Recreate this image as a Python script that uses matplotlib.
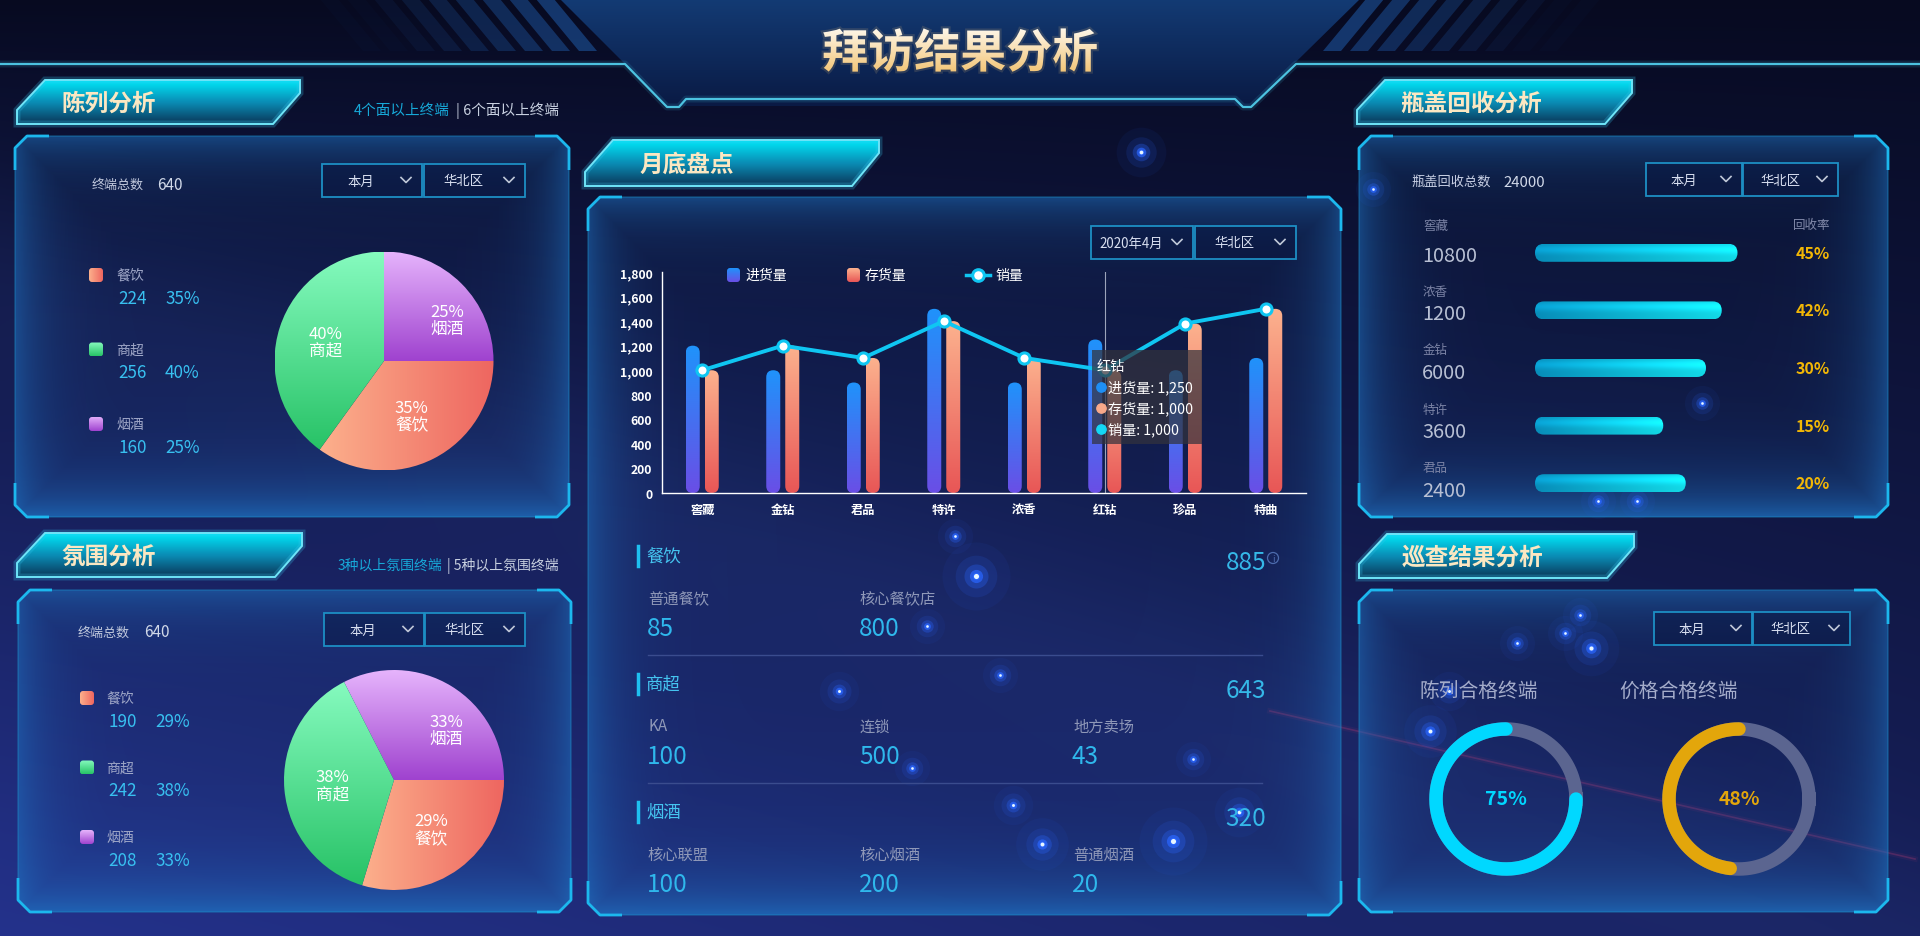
import numpy as np
import matplotlib
matplotlib.use('Agg')
import matplotlib.pyplot as plt
from matplotlib.patches import Polygon, FancyBboxPatch, Rectangle, PathPatch, Circle
from matplotlib.colors import to_rgb
from matplotlib.textpath import TextPath
from matplotlib.font_manager import FontProperties
from matplotlib.transforms import Affine2D
from matplotlib.ticker import FuncFormatter

plt.rcParams['font.family'] = ['Noto Sans CJK SC', 'DejaVu Sans']

W, H = 1920, 937

# ---------------- data ----------------
pie_names = ['餐饮', '商超', '烟酒']
display_counts = [224, 256, 160]
display_pct = [35, 40, 25]
mood_counts = [190, 242, 208]
mood_pct = [29, 38, 33]
terminal_total = 640

cats = ['窖藏', '金钻', '君品', '特许', '浓香', '红钻', '珍品', '特曲']
inbound = [1200, 1000, 900, 1500, 900, 1250, 1000, 1100]
stock = [1000, 1200, 1100, 1400, 1100, 1000, 1380, 1500]
sales = [1000, 1200, 1100, 1400, 1100, 1000, 1380, 1500]
tip_idx = 5

sec_names = ['餐饮', '商超', '烟酒']
sec_totals = [885, 643, 320]
sub_names = [['普通餐饮', '核心餐饮店'], ['KA', '连锁', '地方卖场'], ['核心联盟', '核心烟酒', '普通烟酒']]
sub_vals = [[85, 800], [100, 500, 43], [100, 200, 20]]

cap_total = 24000
cap_names = ['窖藏', '浓香', '金钻', '特许', '君品']
cap_counts = [10800, 1200, 6000, 3600, 2400]
cap_bar = [90, 83, 76, 57, 67]
cap_rate = [45, 42, 30, 15, 20]

insp_names = ['陈列合格终端', '价格合格终端']
insp_rate = [75, 48]

# styles
pie_grad = {'餐饮': ('#fcb08c', '#ee6660', True),
            '商超': ('#86fbbf', '#27c266', False),
            '烟酒': ('#e6b4fc', '#9f42cf', False)}


def frac(x0, y0, x1, y1):
    return [x0 / W, 1 - y1 / H, (x1 - x0) / W, (y1 - y0) / H]


def ramp(c0, c1, n=256, horiz=False):
    t = np.linspace(0, 1, n)[:, None]
    arr = (1 - t) * np.array(to_rgb(c0)) + t * np.array(to_rgb(c1))
    return arr[None, :, :] if horiz else arr[:, None, :]


def fill_grad(ax, patch, img, extent, z):
    ax.add_patch(patch)
    im = ax.imshow(img, extent=extent, aspect='auto', zorder=z, interpolation='bilinear')
    im.set_clip_path(patch)
    return im


fig = plt.figure(figsize=(W / 100, H / 100), dpi=100)
bg = fig.add_axes([0, 0, 1, 1])
bg.axis('off')

# background
yy, xx = np.mgrid[0:H:2, 0:W:2].astype(float)
t = yy / H
s = xx / W
top = np.array([7, 10, 32]) / 255
bot = np.array([36, 50, 140]) / 255
f = (t ** 0.9) * (1 - 0.45 * s)
img = top + (bot - top) * f[..., None]
band = np.exp(-((yy - (0.30 * H + 0.35 * xx)) / 110) ** 2) * 0.035
img = img + band[..., None] * np.array([0.4, 0.6, 1.0])
bg.imshow(np.clip(img, 0, 1), extent=[0, W, H, 0], aspect='auto', zorder=0)

# title band
band_pts = [(560, 0), (1360, 0), (1251, 107), (667, 107)]
fill_grad(bg, Polygon(band_pts, closed=True, fc='none', ec='none'),
          ramp('#133b74', '#0a1a44'), [560, 1360, 107, 0], 0.5)

# stripes
for i in range(9):
    a = 536 - 27 * i
    al = max(0.05, 0.8 - 0.11 * i)
    left = [(a, 0), (a + 18, 0), (a + 61, 52), (a + 43, 52)]
    right = [(W - px, py) for px, py in left]
    for pts in (left, right):
        bg.add_patch(Polygon(pts, closed=True, fc='#18427f', ec='none', alpha=al, zorder=0.6))

# header line
hx = [0, 625, 667, 679, 686, 1235, 1243, 1251, 1296, W]
hy = [65, 65, 108, 108, 100, 100, 108, 108, 65, 65]
bg.plot(hx, hy, color='#3fb8d8', lw=5, alpha=0.15, zorder=1)
bg.plot(hx, hy, color='#4cc2e0', lw=1.6, zorder=1)

# red streak
bg.plot([1270, 1915], [712, 860], color='#c8346e', lw=4, alpha=0.08, zorder=0.7)
bg.plot([1270, 1915], [712, 860], color='#d04078', lw=1.2, alpha=0.25, zorder=0.7)

# glowing stars (decoration)
stars = [(1141, 153, 0.8), (976, 577, 1.5), (1173, 842, 1.5), (1042, 845, 0.9), (1013, 806, 0.5),
         (1239, 813, 0.8), (1430, 732, 0.9), (1449, 692, 0.5), (1591, 649, 1.0), (1580, 616, 0.4),
         (1565, 634, 0.4), (1517, 644, 0.4), (1637, 502, 0.4), (1702, 404, 0.4), (1598, 502, 0.4),
         (839, 692, 0.5), (927, 627, 0.4), (912, 769, 0.4), (1373, 190, 0.4), (1193, 760, 0.4),
         (955, 537, 0.4), (1000, 676, 0.4)]
for sx, sy, sz in stars:
    for mult, al in [(1600, 0.06), (600, 0.13), (200, 0.3), (60, 0.7), (18, 1.0)]:
        bg.scatter([sx], [sy], s=mult * sz, color='#2a66ff', alpha=al, lw=0, zorder=1.5)
    bg.scatter([sx], [sy], s=9 * sz, color='#e8f6ff', lw=0, zorder=1.6)


def panel(x0, y0, x1, y1, c=12):
    pts = [(x0 + c, y0), (x1 - c, y0), (x1, y0 + c), (x1, y1 - c), (x1 - c, y1),
           (x0 + c, y1), (x0, y1 - c), (x0, y0 + c)]
    poly = Polygon(pts, closed=True, fc='none', ec='none')
    w, h = int(x1 - x0), int(y1 - y0)
    py, px = np.mgrid[0:h, 0:w] + 0.5
    d = np.minimum(np.minimum(px, w - px), np.minimum(py, h - py))
    a = 0.5 * np.exp(-d / 30) + 0.22 * np.exp(-(h - py) / 45) + 0.05
    rgba = np.zeros((h, w, 4))
    rgba[..., :3] = to_rgb('#1f72c2')
    rgba[..., 3] = np.clip(a, 0, 0.85)
    fill_grad(bg, poly, rgba, [x0, x1, y1, y0], 1)
    bg.add_patch(Polygon(pts, closed=True, fc='none', ec='#1a8fc8', lw=1.0, alpha=0.45, zorder=2))
    L = 22
    corners = [[(x0, y0 + c + L), (x0, y0 + c), (x0 + c, y0), (x0 + c + L, y0)],
               [(x1 - c - L, y0), (x1 - c, y0), (x1, y0 + c), (x1, y0 + c + L)],
               [(x1, y1 - c - L), (x1, y1 - c), (x1 - c, y1), (x1 - c - L, y1)],
               [(x0 + c + L, y1), (x0 + c, y1), (x0, y1 - c), (x0, y1 - c - L)]]
    for cp in corners:
        cx_, cy_ = zip(*cp)
        bg.plot(cx_, cy_, color='#1cb8ee', lw=2.0, zorder=2.1, solid_capstyle='butt')


def tab(x0, y0, x1, y1, text, tx=44):
    pts = [(x0 + 28, y0), (x1, y0), (x1, y0 + 13), (x1 - 27, y1), (x0, y1), (x0, y1 - 14)]
    poly = Polygon(pts, closed=True, fc='none', ec='none')
    g = np.vstack([ramp('#00e8f8', '#0a8db5', 60), ramp('#0a8db5', '#0b3658', 60)])
    fill_grad(bg, poly, g, [x0, x1, y1, y0], 3)
    bg.add_patch(Polygon(pts, closed=True, fc='none', ec='#38c8f0', lw=5, alpha=0.25, zorder=3))
    bg.add_patch(Polygon(pts, closed=True, fc='none', ec='#6ee4f8', lw=1.4, zorder=4))
    bg.text(x0 + tx, (y0 + y1) / 2 + 1, text, color='#fbe7c2', fontsize=17, fontweight='bold',
            va='center', ha='left', zorder=5)


def dropdown(x0, y0, x1, y1, text):
    bg.add_patch(Rectangle((x0, y0), x1 - x0, y1 - y0, fc=(0.04, 0.09, 0.26, 0.5),
                           ec='#1d8fc4', lw=1.3, zorder=4))
    cy = (y0 + y1) / 2
    bg.text(x0 + (x1 - x0) * 0.39, cy, text, color='#d8dff0', fontsize=9.6,
            ha='center', va='center', zorder=5)
    cx = x1 - 16
    bg.plot([cx - 5, cx, cx + 5], [cy - 3, cy + 2, cy - 3], color='#c0c8d8', lw=1.2, zorder=5)


def swatch(x, y, name):
    c0, c1, hz = pie_grad[name]
    p = FancyBboxPatch((x - 7, y - 7), 14, 14, boxstyle='round,pad=0,rounding_size=3',
                       fc='none', ec='none')
    fill_grad(bg, p, ramp(c0, c1, horiz=hz), [x - 7, x + 7, y + 7, y - 7], 4)


def draw_pie(cx, cy, r, counts, pcts):
    ax = fig.add_axes(frac(cx - r, cy - r, cx + r, cy + r))
    order = [2, 0, 1]
    vals = [counts[i] for i in order]
    labs = [f'{pcts[i]}%\n{pie_names[i]}' for i in order]
    start = 360 * counts[2] / sum(counts)
    wedges, texts = ax.pie(vals, labels=labs, startangle=start, counterclock=False,
                           labeldistance=0.56,
                           textprops=dict(color='white', fontsize=12, ha='center',
                                          va='center', linespacing=1.0, zorder=5))
    for wdg, i in zip(wedges, order):
        c0, c1, hz = pie_grad[pie_names[i]]
        wdg.set_facecolor('none')
        wdg.set_edgecolor('none')
        e = wdg.get_path().get_extents()
        im = ax.imshow(ramp(c0, c1, horiz=hz), extent=[e.x0, e.x1, e.y0, e.y1],
                       aspect='auto', zorder=1, interpolation='bilinear')
        im.set_clip_path(wdg)
    x, y = texts[0].get_position()
    texts[0].set_position((x + 0.18, y - 0.02))
    ax.set_xlim(-1, 1)
    ax.set_ylim(-1, 1)
    ax.set_aspect('equal')
    ax.axis('off')


# ---------------- title ----------------
fp = FontProperties(family='Noto Sans CJK SC', weight='bold')
tp = TextPath((0, 0), '拜访结果分析', size=46, prop=fp)
ext = tp.get_extents()
tr = Affine2D().translate(-(ext.x0 + ext.width / 2), -(ext.y0 + ext.height / 2)).scale(1, -1).translate(960, 51)
tpath = tr.transform_path(tp)
bg.add_patch(PathPatch(tpath, fc='none', ec='#f6c878', lw=3, alpha=0.15, zorder=4))
fill_grad(bg, PathPatch(tpath, fc='none', ec='none'), ramp('#fffaf0', '#f2c373'),
          [960 - ext.width / 2 - 2, 960 + ext.width / 2 + 2, 51 + ext.height / 2 + 2,
           51 - ext.height / 2 - 2], 5)

# ---------------- left top: 陈列分析 ----------------
tab(17, 81, 300, 125, '陈列分析')
bg.text(354, 111, '4个面以上终端', color='#17a8d8', fontsize=10.5, va='center', zorder=5)
bg.text(456, 111, '| 6个面以上终端', color='#c8d0e0', fontsize=10.5, va='center', zorder=5)
panel(15, 137, 569, 518)
bg.text(92, 185, '终端总数', color='#c0c8dc', fontsize=9.4, va='center', zorder=5)
bg.text(157, 185, str(terminal_total), color='#d0d8e8', fontsize=11, va='center', zorder=5)
dropdown(322, 165, 422, 198, '本月')
dropdown(424, 165, 525, 198, '华北区')
for i, name in enumerate(pie_names):
    ly = 276 + i * 74.5
    swatch(96, ly, name)
    bg.text(116, ly, name, color='#a0a8c8', fontsize=10, va='center', zorder=5)
    bg.text(118, ly + 23, str(display_counts[i]), color='#38c0f0', fontsize=12.3, va='center', zorder=5)
    bg.text(165, ly + 23, f'{display_pct[i]}%', color='#38c0f0', fontsize=12.3, va='center', zorder=5)
draw_pie(384, 362, 109.5, display_counts, display_pct)

# ---------------- left bottom: 氛围分析 ----------------
tab(17, 534, 302, 578, '氛围分析')
bg.text(338, 566, '3种以上氛围终端', color='#17a8d8', fontsize=10, va='center', zorder=5)
bg.text(447, 566, '| 5种以上氛围终端', color='#c8d0e0', fontsize=10, va='center', zorder=5)
panel(18, 591, 571, 913)
bg.text(78, 633, '终端总数', color='#c0c8dc', fontsize=9.4, va='center', zorder=5)
bg.text(144, 633, str(terminal_total), color='#d0d8e8', fontsize=11, va='center', zorder=5)
dropdown(324, 614, 424, 647, '本月')
dropdown(425, 614, 525, 647, '华北区')
for i, name in enumerate(pie_names):
    ly = 699 + i * 69.5
    swatch(87, ly, name)
    bg.text(106, ly, name, color='#a0a8c8', fontsize=10, va='center', zorder=5)
    bg.text(108, ly + 23, str(mood_counts[i]), color='#38c0f0', fontsize=12.3, va='center', zorder=5)
    bg.text(155, ly + 23, f'{mood_pct[i]}%', color='#38c0f0', fontsize=12.3, va='center', zorder=5)
draw_pie(394, 781, 110, mood_counts, mood_pct)

# ---------------- center: 月底盘点 ----------------
tab(585, 141, 879, 187, '月底盘点', tx=54)
panel(588, 198, 1341, 916)
dropdown(1091, 227, 1193, 260, '2020年4月')
dropdown(1195, 227, 1296, 260, '华北区')

AX0, AY0, AX1, AY1 = 662, 273, 1306, 494
ax = fig.add_axes(frac(AX0, AY0, AX1, AY1))
ax.set_facecolor('none')
xs = np.arange(len(cats))
bw, off = 0.174, 0.118
ymax = 1800
asp = (ymax / (AY1 - AY0)) / (len(cats) / (AX1 - AX0))
b1 = ax.bar(xs - off, inbound, bw, color='none', zorder=2)
b2 = ax.bar(xs + off, stock, bw, color='none', zorder=2)
for bars, (ct, cb) in [(b1, ('#1f93fb', '#6a4ee6')), (b2, ('#fcb28e', '#e85656'))]:
    for r in bars:
        x0, w, h = r.get_x(), r.get_width(), r.get_height()
        p = FancyBboxPatch((x0, 0), w, h, boxstyle=f'round,pad=0,rounding_size={w / 2}',
                           mutation_aspect=asp, fc='none', ec='none')
        fill_grad(ax, p, ramp(ct, cb), [x0, x0 + w, 0, h], 2)
ax.axvline(tip_idx, color='#c0c8d8', lw=0.8, alpha=0.8, zorder=3)
ax.plot(xs, sales, color='#0fc6f2', lw=2.8, marker='o', ms=8, mfc='white', mec='#0fc6f2',
        mew=2.2, zorder=4)
ax.set_xlim(-0.5, len(cats) - 0.5)
ax.set_ylim(0, ymax)
ax.set_yticks(np.arange(0, ymax + 1, 200))
ax.yaxis.set_major_formatter(FuncFormatter(lambda v, _: f'{int(v):,}'))
ax.set_xticks(xs)
ax.set_xticklabels(cats)
for sp in ['top', 'right']:
    ax.spines[sp].set_visible(False)
for sp in ['left', 'bottom']:
    ax.spines[sp].set_color('white')
    ax.spines[sp].set_linewidth(1)
ax.tick_params(length=0, colors='white', labelsize=8.8, pad=7)
for lab in ax.get_xticklabels() + ax.get_yticklabels():
    lab.set_fontweight('bold')


def px2d(px, py):
    return ((px - AX0) / (AX1 - AX0) * len(cats) - 0.5, (AY1 - py) / (AY1 - AY0) * ymax)


tx0, ty0 = px2d(1092, 445)
tx1, ty1 = px2d(1202, 351)
ax.add_patch(FancyBboxPatch((tx0, ty0), tx1 - tx0, ty1 - ty0, boxstyle='square,pad=0',
                            fc=(0.2, 0.2, 0.24, 0.72), ec='none', zorder=6, clip_on=False))
ax.text(*px2d(1097, 367), cats[tip_idx], color='white', fontsize=10.2, va='center', zorder=7)
tip_rows = [('进货量', inbound[tip_idx], '#1e8ff5'), ('存货量', stock[tip_idx], '#f9a98a'),
            ('销量', sales[tip_idx], '#14d8f5')]
for k, (nm, v, col) in enumerate(tip_rows):
    yk = 388 + 21 * k
    ax.scatter(*px2d(1101, yk), s=45, color=col, zorder=7, clip_on=False)
    ax.text(*px2d(1108, yk), f'{nm}: {v:,}', color='white', fontsize=10.2, va='center', zorder=7)

# legend
for (lx, name, c0, c1) in [(733, '进货量', '#1f93fb', '#6a4ee6'), (853, '存货量', '#fcb28e', '#e85656')]:
    p = FancyBboxPatch((lx - 6, 269), 13, 14, boxstyle='round,pad=0,rounding_size=3', fc='none', ec='none')
    fill_grad(bg, p, ramp(c0, c1), [lx - 6, lx + 7, 283, 269], 4)
    bg.text(lx + 12, 276, name, color='white', fontsize=10, va='center', zorder=5)
bg.plot([966, 990], [276, 276], color='#0fc6f2', lw=2.5, zorder=4)
bg.scatter([978], [276], s=70, color='white', edgecolor='#0fc6f2', lw=2.2, zorder=5)
bg.text(995, 276, '销量', color='white', fontsize=10, va='center', zorder=5)

# sections
cols_x = [648, 860, 1073]
for i, name in enumerate(sec_names):
    y0 = 557 + i * 128
    bg.plot([638, 638], [y0 - 10, y0 + 10], color='#1ec0f0', lw=2.5, zorder=5)
    bg.text(646, y0, name, color='#45c4f0', fontsize=12.5, va='center', zorder=5)
    bg.text(1266, y0 + 6, str(sec_totals[i]), color='#35b8e8', fontsize=17.5, va='center',
            ha='right', zorder=5)
    for j, (sn, sv) in enumerate(zip(sub_names[i], sub_vals[i])):
        bg.text(cols_x[j], y0 + 42, sn, color='#8f98b8', fontsize=11, va='center', zorder=5)
        bg.text(cols_x[j] - 1, y0 + 72, str(sv), color='#2fb8ec', fontsize=17.5, va='center', zorder=5)
    if i < len(sec_names) - 1:
        bg.plot([648, 1262], [y0 + 99, y0 + 99], color='#3a4c8e', lw=1, zorder=5)
# info icon next to the first total
bg.add_patch(Circle((1273, 559), 5.5, fc='none', ec='#4d6cae', lw=0.9, zorder=5))
bg.text(1273, 559.5, 'i', color='#4d6cae', fontsize=6.5, ha='center', va='center',
        family=['DejaVu Sans'], zorder=5)

# ---------------- right top: 瓶盖回收分析 ----------------
tab(1357, 81, 1632, 125, '瓶盖回收分析', tx=43)
panel(1359, 137, 1888, 518)
bg.text(1411, 183, '瓶盖回收总数', color='#c8d0e4', fontsize=9.5, va='center', zorder=5)
bg.text(1503, 183, str(cap_total), color='#d0d8e8', fontsize=10.8, va='center', zorder=5)
dropdown(1646, 164, 1742, 197, '本月')
dropdown(1743, 164, 1838, 197, '华北区')
bg.text(1830, 226, '回收率', color='#8088a8', fontsize=9, va='center', ha='right', zorder=5)

PX0, PY0, PX1, PY1 = 1535, 225, 1760, 513
axp = fig.add_axes(frac(PX0, PY0, PX1, PY1))
axp.set_facecolor('none')
rows = np.arange(len(cap_names))
bh = 18 / ((PY1 - PY0) / len(rows))
hb = axp.barh(rows, cap_bar, height=bh, color='none')
asp2 = (len(rows) / (PY1 - PY0)) / (100 / (PX1 - PX0))
tt = np.linspace(0, 1, 32)[:, None, None]
for r in hb:
    x0, w, y0, h = r.get_x(), r.get_width(), r.get_y(), r.get_height()
    p = FancyBboxPatch((x0, y0), w, h, boxstyle=f'round,pad=0,rounding_size={h / asp2 / 2}',
                       mutation_aspect=asp2, fc='none', ec='none')
    g = ramp('#0898c8', '#14ecfa', horiz=True) * (0.92 + 0.16 * np.exp(-((tt - 0.3) / 0.25) ** 2))
    fill_grad(axp, p, np.clip(g, 0, 1), [x0, x0 + w, y0 + h, y0], 2)
axp.set_xlim(0, 100)
axp.set_ylim(len(rows) - 0.5, -0.5)
axp.axis('off')

lab_y = [226, 293, 351, 410, 469]
val_y = [257, 315, 374, 433, 492]
for i in rows:
    yc = PY0 + (i + 0.5) * (PY1 - PY0) / len(rows)
    bg.text(1423, lab_y[i], cap_names[i], color='#7c84a6', fontsize=9, va='center', zorder=5)
    bg.text(1422, val_y[i], str(cap_counts[i]), color='#b8c0d4', fontsize=14.3, va='center', zorder=5)
    bg.text(1830, yc, f'{cap_rate[i]}%', color='#f2b705', fontsize=11.5, fontweight='bold',
            va='center', ha='right', zorder=5)

# ---------------- right bottom: 巡查结果分析 ----------------
tab(1359, 535, 1634, 579, '巡查结果分析', tx=43)
panel(1359, 591, 1888, 913)
dropdown(1654, 613, 1752, 646, '本月')
dropdown(1753, 613, 1850, 646, '华北区')
donut_x = [1506, 1739]
donut_col = ['#00d8ff', '#e3a60b']
for i, name in enumerate(insp_names):
    bg.text([1479, 1679][i], 691, name, color='#a4acca', fontsize=14.2, ha='center', va='center', zorder=5)
    cx = donut_x[i]
    axd = fig.add_axes(frac(cx - 90, 800 - 90, cx + 90, 800 + 90))
    th = np.linspace(0, 2 * np.pi, 361)
    axd.plot(70 * np.cos(th), 70 * np.sin(th), color='#5b6590', lw=9.7)
    th2 = np.linspace(np.pi / 2, np.pi / 2 + 2 * np.pi * insp_rate[i] / 100, 300)
    axd.plot(70 * np.cos(th2), 70 * np.sin(th2), color=donut_col[i], lw=9.7, solid_capstyle='round')
    axd.text(0, 0, f'{insp_rate[i]}%', color=donut_col[i], fontsize=14, fontweight='bold',
             ha='center', va='center')
    axd.set_xlim(-90, 90)
    axd.set_ylim(-90, 90)
    axd.set_aspect('equal')
    axd.axis('off')

bg.set_xlim(0, W)
bg.set_ylim(H, 0)
fig.savefig('out.png', dpi=100)
